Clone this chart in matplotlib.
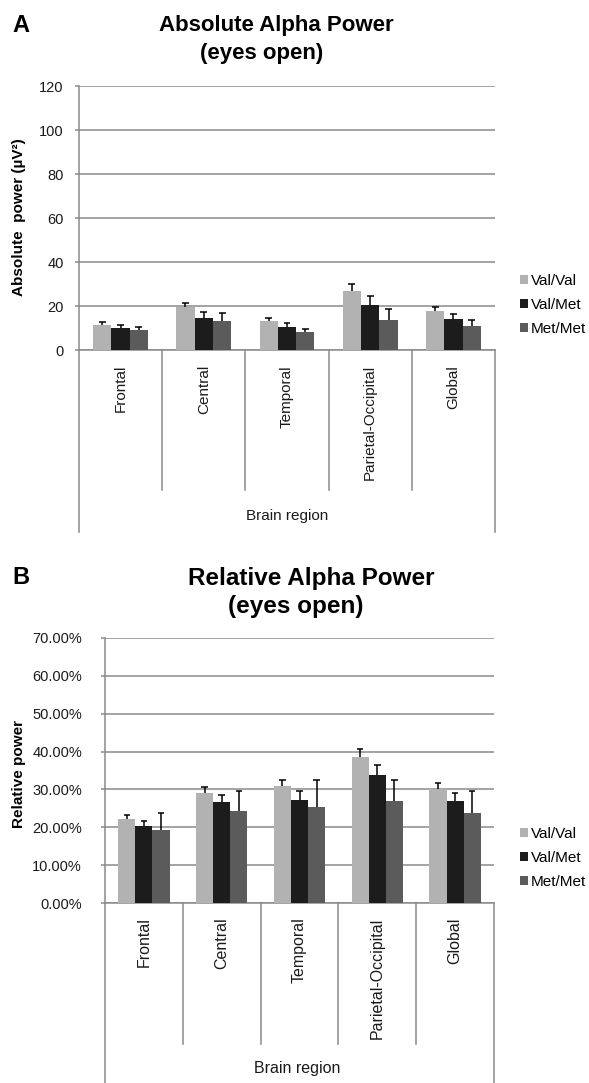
import matplotlib
matplotlib.use("Agg")
import matplotlib.pyplot as plt
from matplotlib.ticker import PercentFormatter, MultipleLocator
import numpy as np

plt.rcParams['font.family'] = ['Liberation Sans', 'DejaVu Sans']

# ---------------- data ----------------
regions = ["Frontal", "Central", "Temporal", "Parietal-Occipital", "Global"]
groups = ["Val/Val", "Val/Met", "Met/Met"]

abs_valval = [11.5, 19.7, 13.2, 26.8, 17.9]
abs_valmet = [9.8, 14.5, 10.3, 20.6, 14.1]
abs_metmet = [8.9, 13.2, 8.3, 13.6, 10.9]
abs_err_valval = [1.2, 1.5, 1.5, 3.2, 1.8]
abs_err_valmet = [1.4, 2.8, 2.1, 4.1, 2.3]
abs_err_metmet = [1.6, 3.8, 1.2, 4.9, 2.9]

rel_valval = [22.1, 29.1, 30.9, 38.6, 30.0]
rel_valmet = [20.5, 26.7, 27.3, 33.7, 27.0]
rel_metmet = [19.3, 24.2, 25.4, 27.0, 23.8]
rel_err_valval = [1.1, 1.5, 1.6, 2.1, 1.7]
rel_err_valmet = [1.3, 1.9, 2.2, 2.8, 2.0]
rel_err_metmet = [4.5, 5.5, 7.2, 5.6, 5.9]

colors = ["#b2b2b2", "#1c1c1c", "#5b5b5b"]
grid_color = "#8a8a8a"

W, H = 589, 1083
fig = plt.figure(figsize=(W / 100, H / 100), dpi=100)


def fx(px):
    return px / W


def fy(py):
    return 1 - py / H


def make_panel(rect, series, errs, ymax, ystep, fmt, tick_pad, cat_fs,
               div_len, outer_len, cat_off):
    ax = fig.add_axes(rect)
    n = len(regions)
    x = np.arange(n) + 0.5
    bw = 0.22
    offsets = [-bw, 0, bw]
    handles = []
    for vals, err, off, c, lab in zip(series, errs, offsets, colors, groups):
        b = ax.bar(x + off, vals, width=bw, color=c, label=lab, zorder=3,
                   linewidth=0)
        handles.append(b)
        tops = np.array(vals) + np.array(err)
        ax.vlines(x + off, vals, tops, color="black", lw=1.1, zorder=4)
        ax.hlines(tops, x + off - 0.042, x + off + 0.042, color="black",
                  lw=1.1, zorder=4)
    ax.set_xlim(0, n)
    ax.set_ylim(0, ymax)
    ax.yaxis.set_major_locator(MultipleLocator(ystep))
    if fmt is not None:
        ax.yaxis.set_major_formatter(fmt)
    ax.grid(axis="y", color=grid_color, lw=1.1, zorder=0)
    for s in ["top", "right"]:
        ax.spines[s].set_visible(False)
    ax.spines["left"].set_color(grid_color)
    ax.spines["bottom"].set_color(grid_color)
    ax.spines["left"].set_linewidth(1.1)
    ax.spines["bottom"].set_linewidth(1.1)
    ax.set_xticks([])
    ax.tick_params(axis="y", direction="out", length=3, width=1.1,
                   color=grid_color, labelsize=10.5, pad=tick_pad,
                   labelcolor="#1a1a1a")
    trans = ax.get_xaxis_transform()
    for i in range(1, n):
        ax.plot([i, i], [0, -div_len], color=grid_color, lw=1.1,
                transform=trans, clip_on=False)
    for i in [0, n]:
        ax.plot([i, i], [0, -outer_len], color=grid_color, lw=1.1,
                transform=trans, clip_on=False)
    for xi, lab in zip(x, regions):
        ax.text(xi, -cat_off, lab, rotation=90, ha="center", va="top",
                fontsize=cat_fs, transform=trans, color="#1a1a1a")
    return ax, handles


# ---------------- panel A ----------------
axA_rect = [fx(79), fy(350), fx(495) - fx(79), fy(86) - fy(350)]
axA, hA = make_panel(axA_rect, [abs_valval, abs_valmet, abs_metmet],
                     [abs_err_valval, abs_err_valmet, abs_err_metmet],
                     120, 20, None, 8, 11, 140 / 264, 182 / 264,
                     15 / 264)

# ---------------- panel B ----------------
axB_rect = [fx(105), fy(903.3), fx(494) - fx(105), fy(637.7) - fy(903.3)]
axB, hB = make_panel(axB_rect, [rel_valval, rel_valmet, rel_metmet],
                     [rel_err_valval, rel_err_valmet, rel_err_metmet],
                     70, 10, PercentFormatter(xmax=100, decimals=2), 13.5,
                     11.5, 141 / 265.6, 182 / 265.6, 14 / 265.6)

# legends
for ax, ycen in [(axA, 305), (axB, 858)]:
    ax.legend(loc="center left", bbox_to_anchor=(fx(520), fy(ycen)),
              bbox_transform=fig.transFigure, frameon=False, fontsize=11,
              handlelength=0.5, handleheight=0.5, handletextpad=0.2,
              labelspacing=0.65, borderpad=0, borderaxespad=0)

# titles and labels
fig.text(fx(12), fy(31.5), "A", fontsize=17, fontweight="bold", ha="left",
         va="baseline")
fig.text(fx(276), fy(31.5), "Absolute Alpha Power", fontsize=16,
         fontweight="bold", ha="center", va="baseline")
fig.text(fx(262), fy(58.5), "(eyes open)", fontsize=16, fontweight="bold",
         ha="center", va="baseline")
fig.text(fx(19), fy(217), "Absolute  power (\u00b5V\u00b2)", rotation=90,
         fontsize=11, fontweight="bold", ha="center", va="center")
fig.text(fx(287), fy(516), "Brain region", fontsize=11, ha="center",
         va="center", color="#1a1a1a")

fig.text(fx(12), fy(583.5), "B", fontsize=17, fontweight="bold", ha="left",
         va="baseline")
fig.text(fx(311.5), fy(584.5), "Relative Alpha Power", fontsize=17.5,
         fontweight="bold", ha="center", va="baseline")
fig.text(fx(295.5), fy(613), "(eyes open)", fontsize=17.5, fontweight="bold",
         ha="center", va="baseline")
fig.text(fx(19), fy(774), "Relative power", rotation=90,
         fontsize=11, fontweight="bold", ha="center", va="center")
fig.text(fx(297), fy(1069), "Brain region", fontsize=11.5, ha="center",
         va="center", color="#1a1a1a")

fig.savefig("out.png", dpi=100, facecolor="white")
